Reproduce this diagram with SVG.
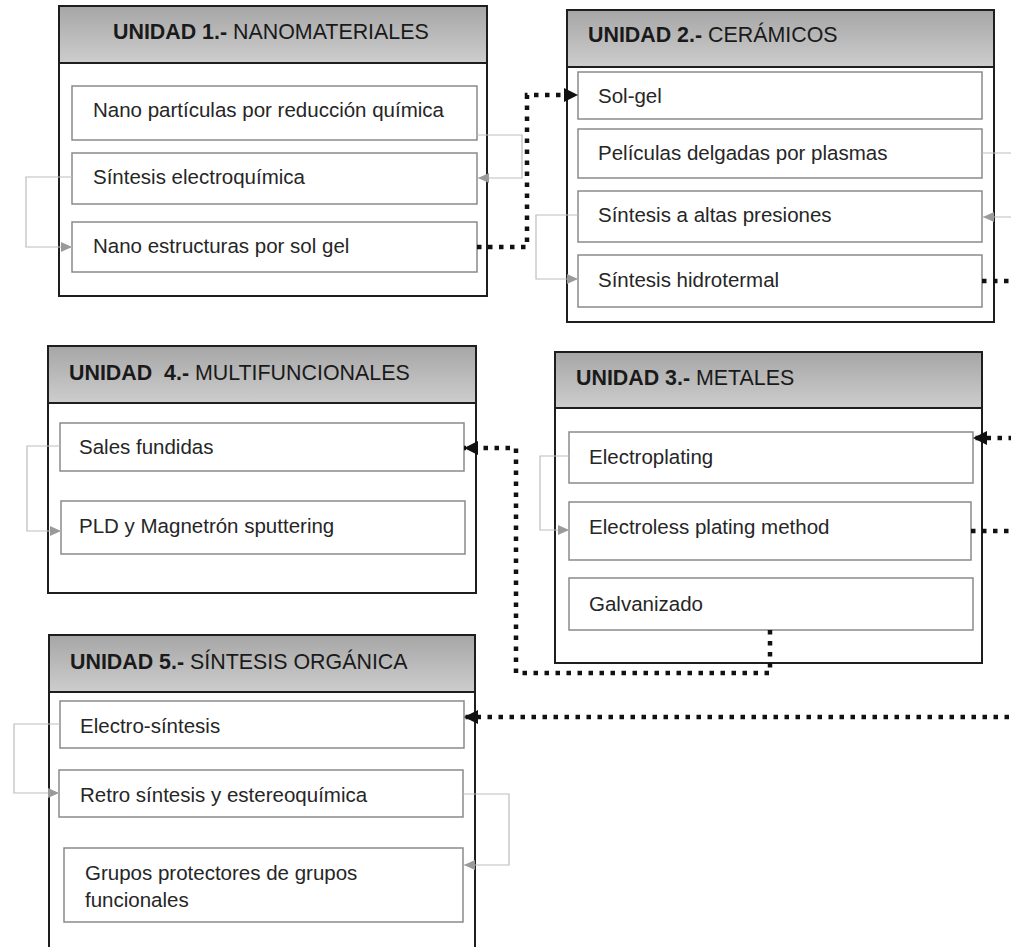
<svg xmlns="http://www.w3.org/2000/svg" width="1011" height="947" viewBox="0 0 1011 947">
<style>
.outer{fill:#fff;stroke:#1e1e1e;stroke-width:2}
.hdr{fill:url(#hg);stroke:#1e1e1e;stroke-width:2}
.item{fill:#fff;stroke:#8a8a8a;stroke-width:1.5}
.t{font-family:"Liberation Sans",Arial,sans-serif;font-size:20.5px;fill:#262626}
.h{font-family:"Liberation Sans",Arial,sans-serif;font-size:21.4px;fill:#1a1a1a;white-space:pre}
.b{font-weight:bold}
.thin{fill:none;stroke:#bdbdbd;stroke-width:1.2;marker-end:url(#ag)}
.dot{fill:none;stroke:#111;stroke-width:4.5;stroke-dasharray:4.5 6.5;marker-end:url(#ab)}
</style>
<defs>
<linearGradient id="hg" x1="0" y1="0" x2="0" y2="1">
<stop offset="0" stop-color="#a6a6a6"/>
<stop offset="1" stop-color="#cdcdcd"/>
</linearGradient>
<marker id="ag" markerUnits="userSpaceOnUse" markerWidth="12" markerHeight="10" refX="11" refY="5" orient="auto">
<path d="M0,0 L11,5 L0,10 z" fill="#9a9a9a"/>
</marker>
<marker id="ab" markerUnits="userSpaceOnUse" markerWidth="15" markerHeight="14" refX="14" refY="7" orient="auto">
<path d="M0,0 L14,7 L0,14 z" fill="#111"/>
</marker>
</defs>

<g id="unidad1">
<rect class="outer" x="59" y="6" width="428" height="290"/>
<rect class="hdr" x="59" y="6" width="428" height="57"/>
<text class="h" x="113" y="39"><tspan class="b">UNIDAD 1.-</tspan> NANOMATERIALES</text>
<g id="u1-item1"><rect class="item" x="72" y="86" width="405" height="54"/><text class="t" x="93" y="117">Nano partículas por reducción química</text></g>
<g id="u1-item2"><rect class="item" x="72" y="153" width="405" height="51"/><text class="t" x="93" y="184">Síntesis electroquímica</text></g>
<g id="u1-item3"><rect class="item" x="72" y="222" width="405" height="50"/><text class="t" x="93" y="253">Nano estructuras por sol gel</text></g>
</g>

<g id="unidad2">
<rect class="outer" x="567" y="10" width="427" height="312"/>
<rect class="hdr" x="567" y="10" width="427" height="57"/>
<text class="h" x="588" y="42"><tspan class="b">UNIDAD 2.-</tspan> CERÁMICOS</text>
<g id="u2-item1"><rect class="item" x="578" y="72" width="404" height="47"/><text class="t" x="598" y="103">Sol-gel</text></g>
<g id="u2-item2"><rect class="item" x="578" y="129" width="404" height="49"/><text class="t" x="598" y="160">Películas delgadas por plasmas</text></g>
<g id="u2-item3"><rect class="item" x="578" y="191" width="404" height="51"/><text class="t" x="598" y="222">Síntesis a altas presiones</text></g>
<g id="u2-item4"><rect class="item" x="578" y="255" width="404" height="52"/><text class="t" x="598" y="287">Síntesis hidrotermal</text></g>
</g>

<g id="unidad4">
<rect class="outer" x="48" y="346" width="428" height="247"/>
<rect class="hdr" x="48" y="346" width="428" height="57"/>
<text class="h" x="69" y="380"><tspan class="b">UNIDAD  4.-</tspan> MULTIFUNCIONALES</text>
<g id="u4-item1"><rect class="item" x="60" y="423" width="404" height="48"/><text class="t" x="79" y="454">Sales fundidas</text></g>
<g id="u4-item2"><rect class="item" x="61" y="501" width="404" height="53"/><text class="t" x="79" y="533">PLD y Magnetrón sputtering</text></g>
</g>

<g id="unidad3">
<rect class="outer" x="555" y="352" width="427" height="311"/>
<rect class="hdr" x="555" y="352" width="427" height="56"/>
<text class="h" x="576" y="385"><tspan class="b">UNIDAD 3.-</tspan> METALES</text>
<g id="u3-item1"><rect class="item" x="569" y="432" width="404" height="51"/><text class="t" x="589" y="464">Electroplating</text></g>
<g id="u3-item2"><rect class="item" x="569" y="502" width="402" height="58"/><text class="t" x="589" y="534">Electroless plating method</text></g>
<g id="u3-item3"><rect class="item" x="569" y="578" width="404" height="52"/><text class="t" x="589" y="611">Galvanizado</text></g>
</g>

<g id="unidad5">
<rect class="outer" x="49" y="635" width="426" height="330"/>
<rect class="hdr" x="49" y="635" width="426" height="57"/>
<text class="h" x="70" y="669"><tspan class="b">UNIDAD 5.-</tspan> SÍNTESIS ORGÁNICA</text>
<g id="u5-item1"><rect class="item" x="60" y="701" width="404" height="47"/><text class="t" x="80" y="733">Electro-síntesis</text></g>
<g id="u5-item2"><rect class="item" x="59" y="770" width="404" height="47"/><text class="t" x="80" y="802">Retro síntesis y estereoquímica</text></g>
<g id="u5-item3"><rect class="item" x="64" y="848" width="399" height="74"/><text class="t" x="85" y="880">Grupos protectores de grupos</text><text class="t" x="85" y="907">funcionales</text></g>
</g>

<g id="connectors">
<path class="thin" d="M477,135 H522 V178 H478"/>
<path class="thin" d="M72,177 H26 V247 H72"/>
<path class="thin" d="M578,215 H536 V279 H578"/>
<path class="thin" d="M982,153 H1016 V217 H983"/>
<path class="thin" d="M60,446 H27 V531 H61"/>
<path class="thin" d="M569,456 H540 V530 H569"/>
<path class="thin" d="M60,724 H14 V793 H59"/>
<path class="thin" d="M463,794 H509 V865 H464"/>
<path class="dot" d="M477,247 H527 V95 H578"/>
<path class="dot" d="M982,281 H1018 V438 H973"/>
<path class="dot" d="M971,531 H1018 V717 H464"/>
<path class="dot" d="M770,630 V673 H516 V448 H464"/>
</g>
</svg>
